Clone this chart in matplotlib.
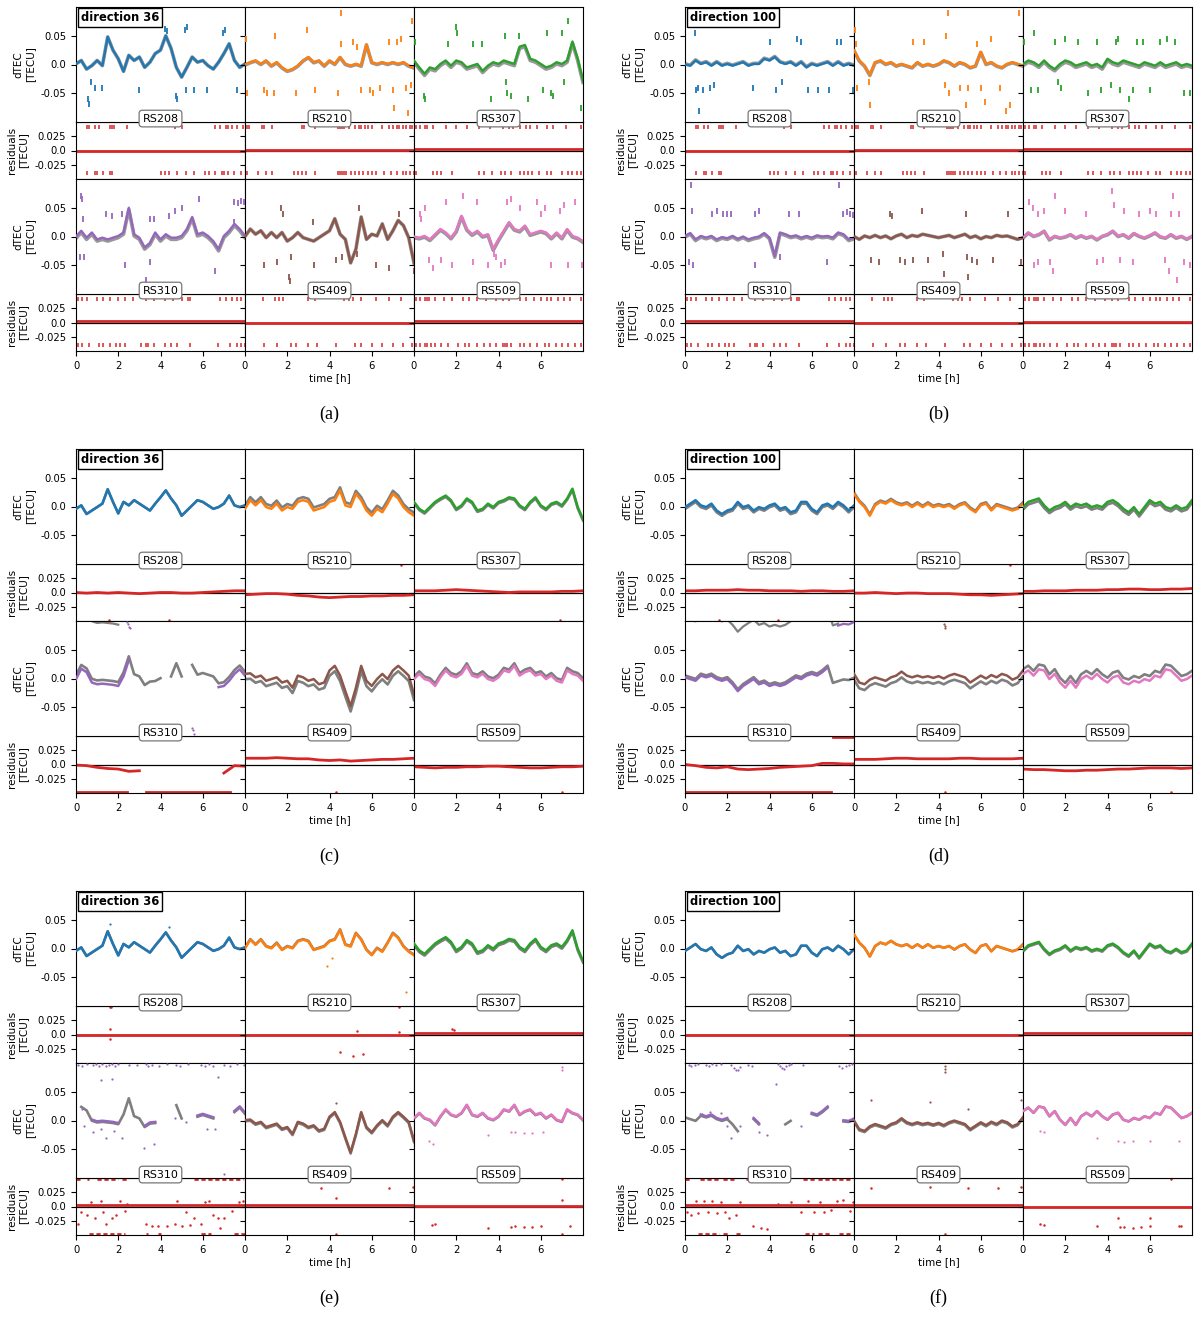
import numpy as np
import matplotlib
matplotlib.use('Agg')
import matplotlib.pyplot as plt

plt.rcParams['axes.unicode_minus'] = False
plt.rcParams['axes.linewidth'] = 0.8

# time grid of the read-off samples [h]
t = np.arange(0, 8.01, 0.25)
t_res = np.arange(0, 8.01, 0.5)

stations = ['RS208', 'RS210', 'RS307', 'RS310', 'RS409', 'RS509']
colors = ['tab:blue', 'tab:orange', 'tab:green', 'tab:purple', 'tab:brown', 'tab:pink']
RED = '#d62728'
GRAY = '#7f7f7f'

# ---- panel (a): direction 36, dTEC per station
a36_rs208 = [0.001, 0.007, -0.008, -0.002, 0.007, -0.002, 0.048, 0.025, 0.010, -0.012, 0.016, 0.007, 0.013, -0.005, 0.004, 0.019, 0.025,
             0.050, 0.028, -0.005, -0.022, -0.005, 0.013, 0.004, 0.007, -0.002, -0.008, 0.004, 0.019, 0.036, 0.007, -0.005, 0.001]
a36_rs210 = [0.0, 0.004, 0.007, 0.001, 0.007, -0.002, 0.004, -0.005, -0.011, -0.008, -0.002, 0.007, 0.013, 0.004, 0.007, -0.002, 0.007,
             0.001, 0.013, 0.001, -0.002, 0.001, -0.002, 0.035, 0.004, 0.001, 0.004, 0.001, 0.004, 0.001, 0.004, -0.002, -0.005]
a36_rs307 = [0.007, -0.005, -0.016, -0.005, -0.008, 0.001, 0.007, -0.002, 0.007, 0.004, -0.005, -0.002, 0.001, -0.011, -0.002, 0.004, 0.001,
             0.007, 0.004, 0.001, 0.031, 0.034, 0.010, 0.007, 0.001, -0.005, -0.002, 0.004, 0.001, 0.007, 0.040, 0.010, -0.028]
a36_rs310 = [0.0, 0.010, -0.002, 0.007, -0.005, -0.002, -0.005, -0.002, 0.001, 0.007, 0.050, 0.004, -0.002, -0.019, -0.011, 0.007, -0.005,
             0.004, -0.002, -0.002, 0.001, 0.013, 0.034, 0.004, 0.007, 0.001, -0.008, -0.022, 0.001, 0.010, 0.022, 0.013, 0.001]
a36_rs409 = [0.0, 0.013, 0.004, 0.010, -0.002, 0.007, -0.002, 0.007, -0.008, -0.002, 0.007, -0.002, -0.005, -0.008, -0.002, 0.004, 0.010,
             0.031, 0.004, -0.005, -0.046, -0.022, 0.034, -0.005, 0.004, 0.001, 0.022, -0.005, 0.010, 0.028, 0.019, -0.002, -0.046]
a36_rs509 = [0.0, -0.002, 0.001, -0.005, 0.004, 0.013, 0.007, -0.002, 0.010, 0.036, 0.013, 0.004, 0.010, 0.001, 0.004, -0.022, -0.005,
             0.010, 0.025, 0.013, 0.010, 0.019, 0.004, 0.007, 0.010, 0.007, -0.002, 0.007, -0.002, 0.013, 0.001, -0.002, -0.008]

# ---- panel (b): direction 100
b100_rs208 = [0.0, -0.002, 0.007, 0.001, 0.004, -0.002, 0.004, -0.002, 0.001, -0.002, 0.001, 0.004, -0.002, 0.001, 0.001, 0.010, 0.007,
              0.013, 0.004, 0.001, 0.004, -0.002, 0.004, -0.005, 0.001, -0.002, 0.001, 0.004, -0.002, 0.004, -0.002, 0.001, -0.002]
b100_rs210 = [0.025, 0.007, -0.002, -0.018, 0.004, 0.007, 0.001, 0.004, -0.002, 0.001, -0.002, -0.005, 0.004, -0.002, 0.001, -0.002, 0.001,
              0.007, 0.004, -0.002, 0.004, 0.001, -0.005, -0.002, 0.022, 0.001, 0.004, -0.002, -0.005, 0.001, 0.004, 0.001, -0.002]
b100_rs307 = [0.001, 0.007, 0.004, -0.002, 0.007, -0.002, -0.008, 0.001, 0.007, 0.004, -0.002, 0.001, 0.004, -0.002, 0.001, -0.005, 0.010,
              0.004, 0.001, 0.007, 0.004, 0.001, -0.002, 0.004, 0.001, -0.002, 0.004, -0.002, 0.001, 0.004, -0.002, 0.001, -0.002]
b100_rs310 = [0.001, 0.006, -0.005, 0.001, -0.002, 0.001, -0.005, -0.001, -0.003, 0.001, -0.004, 0.0, -0.005, -0.002, 0.0, 0.006, -0.002,
              -0.034, 0.007, 0.004, 0.0, 0.002, -0.002, 0.001, -0.002, 0.002, 0.0, 0.001, -0.002, 0.007, 0.004, -0.005, -0.002]
b100_rs409 = [0.0, -0.005, 0.001, -0.002, 0.002, -0.002, 0.001, -0.004, 0.001, 0.004, -0.002, 0.002, 0.0, 0.004, 0.002, 0.0, -0.002,
              0.0, 0.002, -0.002, 0.001, 0.004, -0.002, 0.001, -0.004, 0.0, -0.002, 0.002, 0.0, 0.001, -0.002, -0.005, -0.002]
b100_rs509 = [-0.002, 0.007, 0.001, 0.004, 0.010, -0.005, 0.001, -0.002, 0.0, 0.004, -0.002, 0.002, -0.002, 0.001, -0.005, 0.001, 0.004,
              0.010, 0.001, 0.004, -0.002, 0.006, 0.001, -0.002, 0.002, 0.007, 0.0, -0.002, 0.004, -0.002, 0.001, -0.004, 0.001]

# ---- panel (c) data, direction 36 (models of (c) are the data of (e))
d36_rs208 = [-0.004, 0.002, -0.013, -0.007, -0.001, 0.005, 0.030, 0.008, -0.012, 0.008, 0.002, 0.011, 0.005, -0.001, -0.007, 0.005, 0.016,
             0.028, 0.014, 0.002, -0.016, -0.007, 0.002, 0.011, 0.008, 0.002, -0.004, -0.001, 0.005, 0.019, 0.002, -0.001, 0.002]
d36_rs210 = [-0.004, 0.011, 0.002, 0.011, -0.001, -0.004, 0.005, -0.007, -0.001, -0.004, 0.008, 0.011, 0.008, -0.007, -0.004, -0.001, 0.008,
             0.011, 0.028, 0.002, -0.001, 0.022, 0.011, -0.007, -0.016, -0.004, -0.010, 0.005, 0.022, 0.014, -0.001, -0.010, -0.016]
d36_rs307 = [0.008, -0.004, -0.010, -0.001, 0.008, 0.014, 0.019, 0.011, -0.004, 0.002, 0.014, 0.008, -0.007, -0.004, 0.005, -0.001, 0.008,
             0.011, 0.016, 0.014, 0.002, -0.004, 0.008, 0.016, 0.002, -0.004, 0.005, 0.008, 0.002, 0.014, 0.031, -0.001, -0.022]
d36_rs310 = [-0.001, 0.017, 0.011, -0.007, -0.010, -0.009, -0.010, -0.011, -0.013, 0.004, 0.032, 0.001, -0.003, -0.018, -0.012, -0.011, -0.006,
             -0.005, -0.003, 0.020, -0.003, -0.006, 0.017, 0.000, 0.003, 0.000, -0.003, -0.015, -0.013, -0.004, 0.008, 0.016, 0.005]
d36_rs409 = [0.008, 0.009, 0.002, 0.005, -0.004, -0.001, 0.002, -0.007, -0.004, -0.016, 0.005, 0.002, -0.004, -0.001, -0.010, -0.007, 0.014,
             0.022, 0.005, -0.022, -0.048, -0.016, 0.022, -0.004, -0.013, -0.001, 0.008, -0.001, 0.014, 0.022, 0.014, 0.005, -0.028]
d36_rs509 = [-0.001, 0.008, -0.001, -0.004, -0.013, 0.002, 0.014, 0.005, 0.002, 0.008, 0.022, 0.005, 0.002, 0.008, -0.001, -0.004, 0.002,
             0.014, 0.011, 0.022, 0.005, 0.011, 0.014, 0.005, 0.008, -0.001, 0.005, -0.004, -0.007, 0.014, 0.008, 0.005, -0.004]

# ---- panel (d) data, direction 100
d100_rs208 = [-0.001, 0.005, 0.011, 0.002, -0.001, 0.005, -0.007, -0.013, -0.007, -0.004, 0.008, -0.001, 0.002, -0.007, -0.001, -0.004, 0.002,
              0.005, -0.004, -0.001, -0.010, -0.007, 0.008, 0.008, -0.004, -0.010, 0.002, 0.005, -0.001, 0.008, 0.002, -0.007, 0.002]
d100_rs210 = [0.022, 0.008, -0.001, -0.016, 0.002, 0.008, 0.005, 0.011, 0.005, 0.002, 0.005, -0.001, 0.005, -0.001, 0.005, -0.001, 0.002,
              -0.001, 0.002, -0.004, 0.002, 0.005, -0.004, -0.010, 0.002, 0.005, -0.007, 0.002, -0.001, -0.004, -0.007, -0.004, 0.005]
d100_rs307 = [-0.001, 0.008, 0.011, 0.014, 0.002, -0.007, -0.001, 0.002, 0.008, -0.001, 0.005, 0.002, 0.005, -0.001, 0.002, -0.001, 0.008,
              0.011, 0.005, -0.004, -0.010, -0.001, -0.013, -0.001, 0.011, 0.005, 0.008, -0.001, -0.004, 0.002, -0.004, -0.001, 0.011]
d100_rs310 = [0.002, -0.001, -0.004, 0.005, 0.002, 0.005, -0.001, -0.004, -0.001, -0.010, -0.022, -0.013, -0.007, -0.001, -0.010, -0.007, -0.013,
              -0.010, -0.013, -0.010, -0.004, 0.002, -0.001, 0.005, 0.008, 0.005, 0.011, 0.019, -0.011, -0.008, -0.005, -0.006, -0.002]
d100_rs409 = [0.008, -0.007, -0.010, -0.002, 0.002, -0.001, -0.004, 0.002, 0.005, 0.012, 0.005, 0.002, 0.005, 0.002, 0.004, 0.001, 0.004,
              0.0, 0.005, 0.008, 0.005, 0.002, -0.007, -0.001, 0.005, 0.0, 0.006, 0.002, 0.008, 0.005, -0.002, 0.002, 0.014]
d100_rs509 = [0.008, 0.014, 0.005, 0.016, 0.014, -0.001, 0.008, -0.007, -0.016, -0.004, -0.016, -0.001, 0.005, -0.001, 0.008, -0.001, -0.007,
              0.002, 0.005, -0.007, -0.010, -0.004, -0.007, -0.001, -0.004, 0.005, 0.002, 0.016, 0.014, 0.005, -0.004, -0.001, 0.005]

# ---- residuals of (c) and (d), every 0.5 h
nan = np.nan
rc_rs208 = [0.0, -0.001, 0.0, -0.001, 0.0, -0.001, -0.002, -0.001, 0.0, 0.0, -0.001, -0.001, 0.0, 0.001, 0.002, 0.003, 0.003]
rc_rs210 = [-0.004, -0.003, -0.002, -0.002, -0.003, -0.005, -0.006, -0.008, -0.009, -0.008, -0.007, -0.007, -0.006, -0.006, -0.005, -0.005, -0.004]
rc_rs307 = [0.003, 0.003, 0.003, 0.004, 0.005, 0.004, 0.003, 0.002, 0.001, 0.0, 0.001, 0.001, 0.001, 0.001, 0.002, 0.002, 0.003]
rc_rs310 = [-0.001, -0.002, -0.005, -0.007, -0.008, -0.012, -0.011, nan, nan, nan, nan, nan, nan, nan, -0.015, -0.002, -0.003]
rc_rs409 = [0.011, 0.011, 0.011, 0.012, 0.011, 0.010, 0.010, 0.008, 0.007, 0.008, 0.006, 0.007, 0.008, 0.009, 0.009, 0.010, 0.011]
rc_rs509 = [-0.004, -0.005, -0.006, -0.005, -0.005, -0.004, -0.004, -0.003, -0.003, -0.004, -0.005, -0.006, -0.006, -0.005, -0.004, -0.004, -0.003]
rd_rs208 = [0.003, 0.003, 0.004, 0.004, 0.004, 0.005, 0.004, 0.004, 0.003, 0.003, 0.003, 0.002, 0.003, 0.003, 0.002, 0.002, 0.003]
rd_rs210 = [-0.001, -0.001, 0.0, -0.001, -0.002, -0.001, -0.001, -0.002, -0.002, -0.002, -0.003, -0.004, -0.004, -0.005, -0.004, -0.003, -0.002]
rd_rs307 = [0.002, 0.002, 0.003, 0.003, 0.003, 0.004, 0.004, 0.004, 0.005, 0.005, 0.006, 0.006, 0.005, 0.005, 0.006, 0.006, 0.007]
rd_rs310 = [0.0, -0.002, -0.005, -0.006, -0.004, -0.008, -0.009, -0.008, -0.007, -0.005, -0.004, -0.003, -0.002, 0.002, 0.002, 0.001, 0.001]
rd_rs409 = [0.009, 0.009, 0.009, 0.010, 0.011, 0.011, 0.010, 0.010, 0.010, 0.010, 0.011, 0.011, 0.010, 0.010, 0.010, 0.010, 0.011]
rd_rs509 = [-0.008, -0.009, -0.009, -0.010, -0.011, -0.011, -0.010, -0.010, -0.009, -0.008, -0.008, -0.007, -0.006, -0.006, -0.006, -0.007, -0.006]

# mean residual level of the other panels
res_off_a = [0.0, 0.001, 0.003, 0.003, 0.0, 0.002]
res_off_b = [-0.001, 0.001, 0.003, 0.002, 0.0, 0.001]
res_off_e = [0.0, -0.001, 0.003, 0.002, 0.002, 0.001]
res_off_f = [0.0, 0.0, 0.002, 0.002, 0.002, 0.0]

# ---- stray dTEC samples (time, dTEC)
out_a_rs208 = [(0.55, -0.06), (0.6, -0.068), (0.7, -0.03), (0.9, -0.04), (1.25, -0.04), (4.2, 0.062), (4.3, 0.058), (4.75, -0.055),
               (4.8, -0.06), (5.15, 0.06), (5.25, 0.065), (5.2, -0.045), (5.6, -0.045), (6.2, -0.045), (6.95, 0.055), (7.05, 0.06),
               (7.6, -0.045), (3.0, -0.045)]
out_a_rs210 = [(0.05, 0.045), (0.1, -0.05), (0.9, -0.045), (1.05, -0.05), (1.4, 0.05), (1.35, -0.05), (2.4, -0.05), (2.95, 0.06),
               (3.3, -0.045), (4.4, -0.05), (4.55, 0.09), (4.55, 0.035), (5.3, 0.03), (5.1, 0.04), (5.5, -0.045), (5.9, -0.045),
               (6.05, -0.05), (6.4, -0.04), (6.8, 0.04), (7.0, -0.045), (7.05, -0.075), (7.2, 0.04), (7.4, 0.045), (7.6, -0.04),
               (7.7, -0.085), (7.85, -0.035), (7.9, 0.075)]
out_a_rs307 = [(0.05, 0.04), (0.45, -0.055), (0.5, -0.06), (1.6, 0.035), (2.0, 0.065), (2.05, 0.055), (2.8, 0.035), (3.2, 0.035),
               (3.65, -0.06), (4.3, 0.05), (4.35, -0.03), (4.4, -0.05), (4.6, -0.055), (4.95, 0.05), (5.4, -0.06), (6.1, -0.045),
               (6.3, 0.055), (6.5, -0.05), (6.6, -0.055), (7.0, 0.055), (7.1, -0.03), (7.3, 0.075), (7.9, -0.075)]
out_a_rs310 = [(0.25, 0.07), (0.3, 0.065), (0.35, 0.03), (0.2, -0.035), (0.4, -0.035), (1.4, 0.04), (1.7, 0.035), (2.2, 0.04),
               (2.3, -0.05), (3.3, -0.075), (3.5, 0.03), (3.5, -0.045), (3.7, 0.03), (4.4, 0.035), (4.7, 0.045), (5.0, 0.05),
               (5.8, 0.065), (6.6, -0.06), (7.5, 0.06), (7.65, 0.058), (7.8, 0.062), (7.95, 0.06), (7.5, 0.025)]
out_a_rs409 = [(0.9, -0.05), (1.5, -0.045), (1.7, 0.05), (1.8, 0.04), (2.1, -0.07), (2.15, -0.078), (2.2, -0.035), (3.2, 0.025),
               (3.25, -0.05), (4.3, -0.04), (4.6, -0.035), (5.4, 0.05), (5.3, -0.03), (6.2, -0.05), (6.8, -0.055), (7.3, 0.04),
               (8.0, -0.06)]
out_a_rs509 = [(0.3, 0.04), (0.35, 0.03), (0.5, 0.05), (0.7, -0.04), (0.9, -0.055), (1.3, -0.04), (1.5, 0.06), (1.8, -0.05),
               (2.3, 0.07), (2.8, -0.045), (3.0, 0.06), (3.5, -0.05), (4.1, -0.05), (4.3, -0.045), (4.4, 0.06), (4.6, 0.065),
               (5.0, 0.05), (5.8, 0.06), (6.0, 0.04), (6.2, 0.05), (6.5, -0.05), (6.9, 0.045), (7.1, 0.055), (7.3, -0.05),
               (7.6, 0.06), (7.95, -0.05), (3.8, -0.03), (3.9, -0.035)]
out_b_rs208 = [(0.45, 0.055), (0.5, -0.045), (0.6, -0.04), (0.65, -0.08), (0.85, -0.045), (1.2, -0.04), (1.35, -0.035), (3.2, -0.04),
               (4.0, 0.04), (4.3, -0.045), (4.6, -0.03), (5.3, 0.045), (5.5, 0.04), (5.8, -0.045), (6.3, -0.045), (6.8, -0.045),
               (7.2, 0.04), (7.4, 0.04), (7.95, -0.045)]
out_b_rs210 = [(0.05, 0.06), (0.1, 0.035), (0.15, -0.04), (0.7, -0.03), (0.75, -0.07), (2.8, 0.04), (3.3, 0.04), (4.3, -0.035),
               (4.35, 0.05), (4.45, 0.09), (4.5, -0.05), (5.0, -0.04), (5.3, -0.07), (5.4, -0.04), (5.8, 0.035), (6.0, -0.04),
               (6.2, -0.065), (6.5, 0.045), (6.9, -0.04), (7.2, -0.08), (7.4, -0.07), (7.8, 0.09)]
out_b_rs307 = [(0.05, 0.04), (0.4, -0.045), (0.5, 0.055), (0.7, -0.045), (1.5, 0.04), (1.65, -0.03), (1.8, -0.04), (2.0, 0.045),
               (2.6, 0.04), (3.1, -0.05), (3.5, 0.04), (3.7, -0.045), (4.15, -0.035), (4.4, 0.04), (4.5, 0.045), (4.6, -0.045),
               (5.0, -0.06), (5.2, -0.045), (5.4, 0.04), (5.7, 0.04), (6.0, -0.045), (6.5, 0.04), (6.8, 0.045), (7.2, 0.04),
               (7.6, -0.05), (7.9, -0.05)]
out_b_rs310 = [(0.3, 0.09), (0.35, 0.045), (0.2, -0.045), (0.4, -0.05), (1.3, 0.04), (1.5, 0.045), (1.8, 0.04), (2.0, 0.04),
               (2.2, 0.04), (3.3, -0.05), (3.3, 0.04), (3.5, 0.045), (4.5, -0.035), (4.9, 0.04), (5.4, 0.04), (6.7, -0.045),
               (7.3, 0.09), (7.5, 0.04), (7.65, 0.042), (7.8, 0.04), (7.95, 0.038)]
out_b_rs409 = [(0.8, -0.04), (1.2, -0.045), (1.7, 0.04), (1.8, 0.035), (2.2, -0.04), (2.4, -0.045), (2.8, -0.04), (3.2, 0.045),
               (3.5, -0.04), (4.2, -0.03), (4.25, -0.065), (5.3, 0.04), (5.35, -0.035), (5.4, -0.07), (5.6, -0.04), (5.8, -0.045),
               (6.6, -0.04), (7.3, 0.04), (7.9, -0.045)]
out_b_rs509 = [(0.3, 0.06), (0.45, 0.05), (0.7, 0.04), (0.5, -0.05), (0.7, -0.045), (1.0, 0.045), (1.3, -0.045), (1.4, -0.06),
               (1.5, 0.07), (2.0, 0.045), (3.0, 0.04), (3.5, -0.045), (3.8, -0.04), (4.2, 0.08), (4.3, 0.055), (4.6, -0.04),
               (4.8, 0.045), (5.2, -0.045), (5.5, 0.04), (6.0, 0.045), (6.3, 0.04), (6.7, -0.04), (6.9, -0.06), (7.0, 0.04),
               (7.1, 0.07), (7.3, -0.075), (7.4, 0.04), (7.6, -0.045), (7.9, -0.05)]
out_c_rs310 = [(2.4, 0.098), (2.45, 0.094), (2.5, 0.09), (2.55, 0.087), (4.65, -0.088), (4.7, -0.092), (4.75, -0.097),
               (5.5, -0.086), (5.55, -0.09), (5.6, -0.096)]
out_e_rs208 = [(1.6, 0.042), (4.4, 0.038)]
out_e_rs210 = [(4.1, -0.017), (3.9, -0.03), (7.6, -0.075)]
out_e_rs310 = [(0.3, 0.02), (0.4, -0.01), (0.8, -0.02), (1.2, -0.015), (1.4, -0.03), (1.8, -0.018), (2.2, -0.03), (3.2, -0.048),
               (3.7, -0.04), (4.7, 0.005), (5.2, -0.003), (6.2, -0.015), (6.6, -0.015), (7.0, -0.093), (1.2, 0.07), (1.7, 0.072),
               (0.1, 0.097), (0.3, 0.095), (0.5, 0.099), (0.8, 0.096), (0.95, 0.099), (1.1, 0.094), (1.25, 0.098), (1.4, 0.095),
               (1.55, 0.097), (1.7, 0.099), (1.85, 0.095), (2.0, 0.098), (2.5, 0.097), (2.9, 0.096), (3.3, 0.098), (3.4, 0.094),
               (3.6, 0.097), (3.95, 0.095), (4.3, 0.099), (4.75, 0.097), (4.9, 0.095), (5.3, 0.098), (5.9, 0.097), (6.1, 0.094),
               (6.3, 0.098), (6.5, 0.095), (6.7, 0.075), (7.0, 0.097), (7.3, 0.095), (7.6, 0.098), (7.95, 0.096)]
out_e_rs409 = [(4.3, 0.03)]
out_e_rs509 = [(7.0, 0.093), (7.0, 0.088), (0.7, -0.035), (0.9, -0.04), (3.5, -0.025), (4.6, -0.02), (4.8, -0.02), (5.2, -0.022),
               (5.6, -0.022), (6.1, -0.02)]
out_f_rs310 = [(0.8, 0.012), (1.2, 0.015), (1.7, 0.013), (2.0, -0.01), (2.2, -0.03), (2.6, -0.01), (3.5, -0.02), (3.9, -0.025),
               (4.3, 0.063), (5.5, -0.01), (0.2, 0.097), (0.3, 0.094), (0.45, 0.096), (0.6, 0.098), (1.0, 0.097), (1.15, 0.095),
               (1.3, 0.098), (1.45, 0.096), (1.7, 0.099), (2.2, 0.096), (2.3, 0.092), (2.4, 0.088), (2.5, 0.087), (2.6, 0.093),
               (3.0, 0.097), (3.15, 0.095), (4.4, 0.098), (4.5, 0.095), (4.6, 0.092), (4.7, 0.09), (4.8, 0.094), (4.9, 0.097),
               (5.0, 0.099), (5.6, 0.097), (7.3, 0.095), (7.45, 0.092), (7.6, 0.094), (7.75, 0.097), (7.9, 0.099)]
out_f_rs409 = [(0.8, 0.035), (3.6, 0.032), (5.4, 0.02), (7.9, 0.035), (4.3, 0.09), (4.3, 0.095), (4.32, 0.085)]
out_f_rs509 = [(0.8, -0.018), (1.0, -0.02), (3.5, -0.03), (4.5, -0.035), (4.8, -0.037), (5.2, -0.035), (6.0, -0.035), (7.4, -0.035)]
out_d_rs409 = [(4.28, 0.095), (4.3, 0.092), (4.32, 0.088)]

# ---- stray residual samples (time, residual)
rp_c = [[(1.55, -0.049), (4.4, -0.049)], [(7.4, 0.048)], [(6.9, -0.048)], [], [(4.3, -0.049)], [(7.0, -0.048)]]
rp_d = [[(1.6, -0.049), (4.4, -0.049)], [(7.4, 0.048)], [], [], [(4.3, -0.049)], [(7.0, -0.048)]]
rp_e = [[(1.6, 0.049), (1.65, 0.049), (1.6, 0.01), (1.6, -0.008), (4.4, 0.049)],
        [(4.5, -0.03), (5.1, -0.037), (5.6, -0.035), (7.3, 0.048), (5.3, 0.006), (7.3, 0.005)],
        [(1.8, 0.01), (1.9, 0.008)],
        [(0.1, -0.03), (0.25, -0.01), (0.5, -0.015), (0.7, 0.008), (0.9, -0.02), (1.2, 0.01), (1.3, -0.01), (1.4, -0.03),
         (1.7, -0.02), (1.9, -0.015), (2.1, 0.01), (2.3, -0.008), (2.4, 0.005), (3.3, -0.03), (3.6, -0.035), (3.9, -0.035),
         (4.3, -0.035), (4.7, -0.03), (4.8, 0.01), (5.0, -0.035), (5.2, -0.01), (5.4, -0.033), (5.6, -0.02), (5.9, -0.03),
         (6.1, 0.008), (6.3, 0.01), (6.5, -0.015), (6.7, -0.02), (6.8, -0.038), (7.0, -0.02), (7.4, -0.008), (7.7, 0.008),
         (7.9, 0.01)],
        [(3.6, 0.033), (4.3, 0.015), (6.8, 0.033), (7.95, 0.035), (4.3, -0.048)],
        [(0.85, -0.032), (1.0, -0.03), (3.5, -0.037), (4.6, -0.036), (4.8, -0.034), (5.2, -0.036), (5.6, -0.036),
         (6.0, -0.034), (7.0, 0.048), (7.0, 0.012), (7.4, -0.034), (7.0, -0.048)]]
rp_f = [[], [], [],
        [(0.1, -0.01), (0.3, -0.015), (0.5, 0.01), (0.6, -0.012), (0.9, 0.01), (1.1, -0.01), (1.3, 0.01), (1.5, -0.012),
         (1.7, 0.008), (1.9, -0.01), (2.1, -0.02), (2.4, -0.015), (2.6, 0.008), (3.2, -0.035), (3.6, -0.037), (3.9, -0.04),
         (4.4, 0.005), (5.0, 0.008), (5.5, -0.01), (5.8, 0.01), (6.1, -0.01), (6.4, 0.008), (6.6, -0.01), (6.9, -0.006),
         (7.2, 0.01), (7.5, 0.012), (7.8, -0.008), (7.95, 0.008)],
        [(0.8, 0.033), (3.6, 0.034), (5.4, 0.032), (6.8, 0.032), (7.9, 0.035), (4.3, -0.048)],
        [(0.8, -0.03), (1.0, -0.032), (3.5, -0.035), (4.6, -0.036), (4.8, -0.036), (5.2, -0.038), (5.6, -0.036),
         (6.0, -0.034), (7.0, 0.048), (7.4, -0.035), (7.5, -0.035), (6.0, -0.02), (4.5, -0.02)]]

# residual outliers of (a) and (b): times at the upper / lower level
RES_HI, RES_LO = 0.042, -0.040
ro_hi = [[0.5, 0.6, 0.9, 1.1, 1.6, 1.7, 1.8, 2.4, 4.7, 5.0, 6.6, 6.8, 7.1, 7.2, 7.4, 7.6, 7.9],
         [0.0, 0.1, 0.2, 0.8, 0.9, 1.3, 2.7, 2.8, 3.3, 4.4, 4.5, 4.6, 4.7, 4.9, 5.2, 5.4, 5.5, 5.7, 5.8, 6.0, 6.5, 6.8, 7.0,
          7.2, 7.3, 7.5, 7.6, 7.8, 7.9],
         [0.1, 0.3, 0.5, 0.6, 0.9, 1.5, 2.0, 2.5, 3.1, 3.6, 4.2, 4.5, 4.7, 5.0, 5.3, 5.5, 5.8, 6.3, 6.6, 7.2, 7.9],
         [0.1, 0.3, 0.5, 1.0, 1.3, 1.6, 2.0, 2.3, 2.7, 3.3, 3.7, 4.2, 4.6, 5.0, 5.3, 5.4, 6.8, 7.1, 7.4, 7.6, 7.8],
         [0.85, 1.4, 1.6, 1.8, 3.0, 3.3, 4.7, 4.9, 5.1, 5.5, 6.2, 6.8, 7.4],
         [0.1, 0.3, 0.5, 0.6, 0.7, 1.0, 1.4, 1.8, 2.3, 2.6, 3.0, 3.4, 3.9, 4.2, 4.5, 5.0, 5.3, 5.7, 6.0, 6.3, 6.5, 6.8, 7.1,
          7.4, 7.9]]
ro_lo = [[0.5, 0.9, 1.0, 1.3, 1.6, 1.7, 4.0, 4.2, 4.4, 4.8, 5.2, 5.6, 6.1, 6.3, 6.6, 6.9, 7.0, 7.2, 7.5, 7.8],
         [0.0, 0.1, 0.6, 1.0, 1.3, 2.3, 2.5, 2.7, 2.9, 3.3, 4.4, 4.5, 4.6, 4.7, 4.8, 5.0, 5.2, 5.4, 5.6, 5.8, 6.0, 6.2, 6.6,
          6.9, 7.2, 7.5, 7.6, 7.8, 8.0],
         [0.1, 0.9, 1.1, 1.3, 1.8, 3.1, 3.3, 3.7, 4.1, 4.3, 4.6, 5.0, 5.2, 5.4, 5.6, 5.9, 6.3, 6.5, 7.0, 7.3, 7.5, 7.7, 7.9],
         [0.1, 0.3, 0.6, 1.1, 1.3, 1.6, 1.9, 2.1, 2.3, 3.1, 3.3, 3.4, 3.7, 4.2, 4.5, 4.8, 5.4, 6.7, 7.3, 7.6, 7.8, 8.0],
         [0.9, 1.5, 2.2, 2.4, 3.0, 3.4, 4.3, 5.2, 5.5, 6.0, 6.5, 7.0, 7.5, 7.9],
         [0.1, 0.3, 0.5, 0.6, 0.8, 1.0, 1.3, 1.6, 2.1, 2.4, 2.6, 3.0, 3.3, 3.6, 3.9, 4.2, 4.3, 4.4, 4.6, 5.0, 5.2, 5.5, 5.8,
          6.2, 6.4, 6.7, 7.0, 7.3, 7.6, 7.9]]

# RS310 time spans (h) where the curves are present, and clipped residual spans
WRAP = 0.1
seg_color = {'c': [(0, 2.5), (6.75, 8)], 'd': [(0, 6.85)],
             'e': [(0.7, 2.0), (3.25, 3.9), (5.7, 6.6), (7.5, 8.0)], 'f': [(0.7, 2.1), (3.25, 3.6), (5.9, 6.8), (7.4, 8.0)]}
seg_gray = {'c': [(0, 3.0), (3.25, 4.0), (4.5, 5.1), (5.5, 8)], 'd': [(0, 6.8), (7.0, 8)],
            'e': [(0.2, 3.0), (3.25, 3.9), (4.7, 5.1), (5.7, 6.6), (7.5, 8)],
            'f': [(0.0, 2.6), (3.25, 3.6), (4.75, 5.0), (5.9, 6.8), (7.4, 8)]}
wrap_gray = {'c': [(0.5, 2.0)], 'd': [(0.0, 7.25)]}
wrap_color = {'d': [(7.25, 8.0)]}
band_lo = {'c': [(0, 2.4), (3.3, 7.3)], 'd': [(0, 6.9)],
           'e': [(0.6, 2.3), (3.3, 3.4), (3.9, 4.0), (5.9, 6.4), (7.5, 8.0)],
           'f': [(0.6, 1.6), (1.8, 2.1), (2.4, 2.6), (5.7, 6.1), (6.3, 6.9), (7.3, 7.9)]}
band_hi = {'d': [(7.0, 8.0)],
           'e': [(0.0, 0.2), (0.5, 0.6), (1.0, 2.0), (2.2, 2.5), (3.0, 3.1), (3.9, 4.0), (5.6, 7.9)],
           'f': [(0.0, 0.3), (0.7, 1.6), (1.8, 2.3), (2.9, 3.2), (4.4, 5.0), (5.6, 6.2), (6.3, 7.9)]}

curves = {'a': [a36_rs208, a36_rs210, a36_rs307, a36_rs310, a36_rs409, a36_rs509],
          'b': [b100_rs208, b100_rs210, b100_rs307, b100_rs310, b100_rs409, b100_rs509],
          'c': [d36_rs208, d36_rs210, d36_rs307, d36_rs310, d36_rs409, d36_rs509],
          'd': [d100_rs208, d100_rs210, d100_rs307, d100_rs310, d100_rs409, d100_rs509]}
res_arr = {'c': [rc_rs208, rc_rs210, rc_rs307, rc_rs310, rc_rs409, rc_rs509],
           'd': [rd_rs208, rd_rs210, rd_rs307, rd_rs310, rd_rs409, rd_rs509]}
res_off = {'a': res_off_a, 'b': res_off_b, 'e': res_off_e, 'f': res_off_f}
outliers = {'a': [out_a_rs208, out_a_rs210, out_a_rs307, out_a_rs310, out_a_rs409, out_a_rs509],
            'b': [out_b_rs208, out_b_rs210, out_b_rs307, out_b_rs310, out_b_rs409, out_b_rs509],
            'c': [[], [], [], out_c_rs310, [], []],
            'd': [[], [], [], [], out_d_rs409, []],
            'e': [out_e_rs208, out_e_rs210, [], out_e_rs310, out_e_rs409, out_e_rs509],
            'f': [[], [], [], out_f_rs310, out_f_rs409, out_f_rs509]}
res_points = {'c': rp_c, 'd': rp_d, 'e': rp_e, 'f': rp_f}

# panel letter, direction, left / top in pixels
panels = [('a', 36, 76, 7), ('b', 100, 685, 7), ('c', 36, 76, 449),
          ('d', 100, 685, 449), ('e', 36, 76, 891), ('f', 100, 685, 891)]

W, H = 1200, 1317
COL_W, D_H, R_H, ROW_STEP = 169, 115, 57, 172

fig = plt.figure(figsize=(W / 100, H / 100), dpi=100)


def px_axes(x0, y0, w, h):
    return fig.add_axes([x0 / W, 1 - (y0 + h) / H, w / W, h / H])


def span_mask(x, segs):
    m = np.zeros(len(x), dtype=bool)
    for lo, hi in segs:
        m |= (x >= lo - 1e-9) & (x <= hi + 1e-9)
    return m


for letter, direction, left, top in panels:
    for i, name in enumerate(stations):
        col, row = i % 3, i // 3
        x0 = left + col * COL_W
        y0 = top + row * ROW_STEP
        ax_d = px_axes(x0, y0, COL_W, D_H)
        ax_r = px_axes(x0, y0 + D_H, COL_W, R_H)
        ax_d.set_zorder(2)
        c = colors[i]

        if letter in 'ab':
            data = np.array(curves[letter][i])
            off = res_off[letter][i]
            model = data - off
        elif letter in 'cd':
            data = np.array(curves[letter][i])
            res = np.array(res_arr[letter][i])
            model = data - np.nanmean(res)
        else:
            base = 'c' if letter == 'e' else 'd'
            model = np.array(curves[base][i]) - np.nanmean(res_arr[base][i])
            off = res_off[letter][i]
            data = model + off

        y_gray, y_col = model, data
        if name == 'RS310' and letter in seg_color:
            y_gray = np.where(span_mask(t, seg_gray[letter]), model, np.nan)
            y_col = np.where(span_mask(t, seg_color[letter]), data, np.nan)

        if letter in 'ab':
            ax_d.plot(t, y_gray, color=GRAY, lw=2.6, alpha=0.8, zorder=2)
            ax_d.plot(t, y_col, color=c, lw=1.7, zorder=3)
        else:
            ax_d.plot(t, y_gray, color=GRAY, lw=1.9, zorder=2)
            ax_d.plot(t, y_col, color=c, lw=1.8, zorder=3)

        if name == 'RS310':
            if letter in wrap_gray:
                m = span_mask(t, wrap_gray[letter])
                ax_d.plot(t, np.where(m, model + WRAP, np.nan), color=GRAY, lw=1.6, zorder=2)
            if letter in wrap_color:
                m = span_mask(t, wrap_color[letter])
                ax_d.plot(t, np.where(m, data + WRAP, np.nan), color=c, lw=1.6, zorder=3)

        pts = outliers[letter][i]
        if pts:
            px, py = zip(*pts)
            if letter in 'ab':
                ax_d.plot(px, py, '|', color=c, ms=4.5, mew=1.3, zorder=3)
            else:
                ax_d.plot(px, py, 'o', color=c, ms=1.6, mew=0, zorder=3)

        # residuals
        ax_r.axhline(0, color='black', lw=0.9, zorder=1)
        if letter in 'cd':
            ax_r.plot(t_res, res, color=RED, lw=2.0, zorder=2)
        else:
            ax_r.plot([0, 8], [off, off], color=RED, lw=2.0, zorder=2)
        if letter in 'ab':
            ax_r.plot(ro_hi[i], [RES_HI] * len(ro_hi[i]), '|', color=RED, ms=3, mew=1.1, zorder=2)
            ax_r.plot(ro_lo[i], [RES_LO] * len(ro_lo[i]), '|', color=RED, ms=3, mew=1.1, zorder=2)
        else:
            if name == 'RS310':
                ls = '-' if letter in 'cd' else (0, (1.5, 1))
                for lo, hi in band_lo.get(letter, []):
                    ax_r.plot([lo, hi], [-0.049, -0.049], color=RED, lw=2, ls=ls, zorder=2)
                for lo, hi in band_hi.get(letter, []):
                    ax_r.plot([lo, hi], [0.049, 0.049], color=RED, lw=2, ls=ls, zorder=2)
            rp = res_points[letter][i]
            if rp:
                px, py = zip(*rp)
                ax_r.plot(px, py, 'o', color=RED, ms=1.8, mew=0, zorder=2)

        # axes cosmetics
        for ax in (ax_d, ax_r):
            ax.set_xlim(0, 8)
            ax.set_xticks([0, 2, 4, 6])
            ax.tick_params(labelsize=7.2, length=3.5, width=0.8)
        ax_d.set_ylim(-0.1, 0.1)
        ax_d.set_yticks([-0.05, 0, 0.05])
        ax_r.set_ylim(-0.05, 0.05)
        ax_r.set_yticks([-0.025, 0, 0.025])
        if col == 0:
            ax_d.set_yticklabels(['-0.05', '0.0', '0.05'])
            ax_r.set_yticklabels(['-0.025', '0.0', '0.025'])
            ax_d.set_ylabel('dTEC\n[TECU]', fontsize=7.5)
            ax_r.set_ylabel('residuals\n[TECU]', fontsize=7.5)
        else:
            ax_d.set_yticklabels([])
            ax_r.set_yticklabels([])
        ax_d.tick_params(labelbottom=False, bottom=False)
        if row == 0:
            ax_r.tick_params(labelbottom=False, bottom=False)
        else:
            ax_r.set_xticklabels(['0', '2', '4', '6'])
            if col == 1:
                ax_r.set_xlabel('time [h]', fontsize=7.5, labelpad=2)

        ax_d.text(0.5, 0.03, name, transform=ax_d.transAxes, ha='center', va='center', fontsize=8,
                  zorder=10, clip_on=False,
                  bbox=dict(boxstyle='round,pad=0.3', fc='white', ec='#777777', lw=0.9))
        if i == 0:
            ax_d.text(0.03, 0.965, f'direction {direction}', transform=ax_d.transAxes, ha='left', va='top',
                      fontsize=8.3, fontweight='bold', zorder=10,
                      bbox=dict(boxstyle='square,pad=0.25', fc='white', ec='black', lw=1.0))

    fig.text((left + 1.5 * COL_W) / W, 1 - (top + 407) / H, f'({letter})', ha='center', va='center',
             fontsize=13, family='Liberation Serif')

fig.savefig('out.png', dpi=100)
